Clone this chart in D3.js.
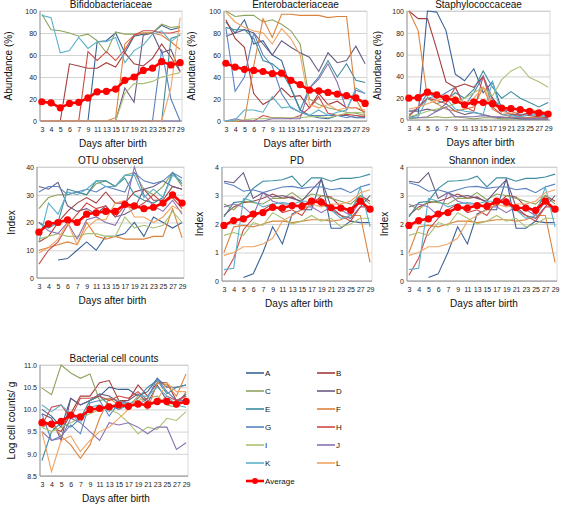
<!DOCTYPE html>
<html>
<head>
<meta charset="utf-8">
<script src="https://cdn.jsdelivr.net/npm/d3@7"></script>
<style>
  body { margin: 0; background: #fff; }
  svg { font-family: "Liberation Sans", Arial, sans-serif; }
</style>
</head>
<body>
<svg id="chart" width="563" height="505"></svg>
<script>
// x categories (days after birth)
const days = ["3", "4", "5", "6", "7", "9", "11", "13", "15", "17", "19", "21", "23", "25", "27", "29"];
const subjects = ["A", "B", "C", "D", "E", "F", "G", "H", "I", "J", "K", "L"];
const subjectColors = ["#3b6296", "#a43e3c", "#8ea35e", "#6b5b82", "#3e8da0", "#dc823c",
                       "#5b82c2", "#cc4b48", "#a9c274", "#8a72b2", "#5bb1c9", "#f2a462"];

// Bifidobacteriaceae (%), one row per subject A..L
const bifidoSeries = [
  [0, 0, 0, 0, 0, 0, 72, 73, 80, 62, 77, 79, 80, 87, 83, 85],
  [0, 0, 0, 52, 50, 48, 48, 53, 49, 62, 52, 50, 57, 70, 58, 45],
  [97, 83, 82, 80, 77, 79, 73, 62, 81, 79, 79, 80, 80, 88, 85, 86],
  [0, 0, 0, 0, 0, 0, 0, 0, 0, 30, 17, 78, 80, 62, 65, 45],
  [0, 0, 0, 0, 0, 0, 0, 0, 0, 0, 0, 0, 0, 0, 75, 78],
  [0, 0, 0, 0, 0, 0, 0, 0, 3, 70, 78, 80, 80, 78, 72, 65],
  [0, 0, 0, 0, 0, 0, 0, 0, 0, 0, 0, 0, 0, 65, 20, 0],
  [0, 0, 0, 0, 0, 63, 55, 63, 55, 65, 78, 82, 82, 80, 80, 82],
  [0, 0, 0, 0, 0, 0, 0, 0, 0, 25, 34, 34, 36, 40, 42, 44],
  [0, 0, 0, 0, 0, 0, 0, 0, 0, 0, 0, 0, 0, 0, 0, 0],
  [96, 94, 62, 64, 76, 66, 72, 72, 76, 53, 64, 69, 79, 82, 72, 79],
  [0, 0, 0, 0, 0, 0, 0, 0, 0, 0, 0, 0, 0, 0, 30, 94]
];
const bifidoAverage = [17.5, 16.5, 12, 16, 17, 21, 26.5, 27, 29, 37, 40, 46, 48, 54, 51, 53];

// Enterobacteriaceae (%)
const enteroSeries = [
  [90, 80, 92, 70, 73, 60, 55, 30, 10, 5, 3, 2, 5, 5, 3, 3],
  [92, 75, 67, 25, 15, 20, 30, 22, 23, 12, 25, 15, 18, 12, 12, 8],
  [100, 95, 96, 96, 90, 92, 88, 82, 70, 20, 15, 12, 10, 8, 7, 5],
  [77, 80, 83, 80, 70, 60, 73, 67, 62, 58, 45, 62, 53, 55, 68, 52],
  [85, 83, 83, 75, 55, 52, 45, 30, 10, 30, 40, 55, 40, 52, 37, 35],
  [0, 0, 0, 50, 93, 76, 97, 97, 96, 96, 96, 94, 95, 95, 20, 5],
  [85, 27, 40, 80, 60, 50, 25, 12, 8, 5, 5, 5, 5, 3, 5, 3],
  [0, 0, 0, 0, 5, 3, 3, 2, 5, 12, 22, 7, 5, 6, 5, 4],
  [0, 0, 1, 2, 2, 3, 3, 3, 3, 4, 4, 3, 5, 7, 8, 7],
  [0, 2, 0, 0, 0, 2, 2, 2, 2, 30, 38, 52, 35, 10, 28, 25],
  [0, 1, 10, 10, 8, 22, 12, 13, 8, 5, 10, 5, 8, 10, 30, 25],
  [99, 90, 85, 82, 80, 70, 84, 75, 60, 15, 12, 15, 10, 12, 12, 10]
];
const enteroAverage = [52.5, 49, 47, 46, 45, 43, 43.5, 37, 33, 28, 27.5, 26, 24.5, 23, 21, 16];

// Staphylococcaceae (%)
const staphSeries = [
  [2, 5, 100, 99, 82, 42, 36, 47, 25, 35, 10, 5, 3, 2, 2, 1],
  [100, 93, 93, 65, 35, 30, 33, 30, 40, 20, 10, 8, 5, 4, 3, 2],
  [1, 2, 2, 3, 2, 3, 2, 1, 2, 2, 1, 1, 1, 1, 1, 1],
  [8, 8, 10, 8, 15, 8, 5, 7, 5, 3, 2, 2, 1, 1, 1, 1],
  [5, 10, 20, 15, 18, 25, 20, 28, 45, 30, 20, 26, 20, 16, 12, 16],
  [100, 82, 20, 15, 10, 8, 10, 12, 30, 10, 5, 3, 2, 2, 2, 1],
  [8, 10, 25, 20, 25, 30, 13, 25, 40, 18, 10, 5, 5, 6, 5, 4],
  [3, 12, 20, 18, 15, 30, 12, 8, 40, 12, 5, 6, 4, 7, 8, 6],
  [3, 5, 8, 10, 12, 15, 20, 25, 30, 22, 37, 45, 49, 39, 35, 30],
  [2, 2, 3, 8, 12, 3, 3, 3, 4, 3, 3, 2, 2, 1, 1, 1],
  [2, 3, 20, 22, 20, 10, 8, 7, 5, 35, 5, 4, 3, 5, 4, 3],
  [10, 12, 15, 18, 20, 22, 15, 20, 30, 15, 8, 6, 8, 10, 8, 7]
];
const staphAverage = [20, 20.5, 25.5, 23, 20, 18, 14, 16.5, 16, 15, 11, 10.5, 9.5, 8, 6.5, 5.5];

// OTU observed
const otuSeries = [
  [null, null, 6.5, 7, 10, 13, 10, 15, 15, 16, 20, 15, 22, 20, 18, 20],
  [13, 15, 20, 24, 27, 29, 27, 31, 27, 27, 31, 32, 28, 28, 33, 32],
  [25, 29, 30, 30, 31, 30, 34, 35, 33, 37, 38, 32, 30, 33, 38, 33],
  [33, 32, 34.5, 26, 24, 25, 23, 26, 22, 23, 25, 32, 33, 35, 33, 32],
  [20, 18, 20, 32, 31, 30, 35, 35, 33, 36, 30, 28, 27, 29, 38, 34],
  [10, 11, 12, 13, 12, 20, 15, 14, 15, 14, 14, 14, 15, 15, 25, 14.5],
  [31, 33, 33, 30, 31, 32, 31, 33, 32, 31, 38, 35, 34, 35, 38, 36],
  [5, 10, 13, 19, 23, 27, 25, 26, 22, 26, 25, 27, 30, 27, 29, 25],
  [14, 15, 16, 15, 15, 16, 16, 15, 15, 22, 18, 19, 18, 19, 24, 20],
  [20, 17, 16, 20, 14, 21, 22, 20, 19, 25, 40, 30, 26, 24, 28, 23],
  [13, 27, 23, 31, 30, 32, 35, 33, 33, 37, 37, 29, 32, 29, 37, 35],
  [9, 11, 14, 20, 12, 18, 21, 21, 27, 28, 22, 22, 20, 22, 26, 24]
];
const otuAverage = [16.5, 19.5, 20, 21, 20, 23, 23.5, 24, 24, 26.5, 26, 25, 25.5, 27, 30, 27];

// PD (the Shannon index panel shows the same curves)
const pdSeries = [
  [null, null, 0.12, 0.25, 1.0, 1.9, 1.3, 2.35, 2.5, 2.5, 3.6, 1.85, 1.85, 2.1, 2.05, 2.05],
  [2.3, 2.6, 2.75, 2.8, 2.9, 3.05, 2.9, 2.95, 2.75, 2.65, 3.0, 2.95, 2.6, 2.5, 3.0, 2.8],
  [2.7, 2.5, 2.8, 2.75, 2.7, 2.9, 2.9, 3.1, 2.85, 3.05, 3.0, 2.9, 2.8, 2.7, 3.0, 2.7],
  [3.5, 3.45, 3.8, 2.9, 3.1, 2.95, 3.0, 2.9, 2.8, 3.2, 3.55, 2.6, 2.3, 2.2, 2.6, 3.0],
  [2.25, 2.75, 2.8, 3.25, 3.5, 3.52, 3.55, 3.68, 3.3, 3.62, 3.62, 3.5, 3.6, 3.6, 3.65, 3.75],
  [1.0, 1.9, 1.95, 1.9, 2.0, 2.1, 2.1, 2.05, 2.1, 2.15, 2.15, 2.1, 2.15, 2.3, 2.3, 0.65],
  [3.45, 3.35, 3.15, 3.2, 3.1, 3.2, 3.3, 3.32, 3.25, 3.3, 3.3, 3.2, 3.25, 3.1, 3.3, 3.4],
  [0.2, 0.8, 1.8, 2.2, 2.5, 2.7, 2.4, 2.5, 2.3, 2.8, 2.9, 2.5, 2.3, 2.1, 2.6, 2.6],
  [1.6, 1.7, 1.6, 2.05, 1.95, 2.4, 2.2, 2.0, 2.1, 2.3, 2.1, 2.2, 1.9, 2.0, 2.2, 2.2],
  [2.6, 2.7, 2.6, 2.3, 3.1, 2.8, 2.7, 2.7, 2.6, 2.6, 2.4, 2.6, 2.5, 2.3, 2.8, 2.4],
  [0.4, 0.45, 2.9, 2.8, 2.6, 2.7, 2.75, 2.7, 2.8, 2.8, 2.7, 2.5, 2.2, 2.3, 3.3, 1.9],
  [0.9, 1.0, 1.2, 1.2, 1.3, 1.5, 2.1, 2.3, 2.5, 2.7, 2.6, 2.7, 2.7, 2.8, 3.1, 3.2]
];
const pdAverage = [1.95, 2.12, 2.18, 2.35, 2.4, 2.58, 2.56, 2.65, 2.62, 2.8, 2.76, 2.57, 2.56, 2.48, 2.8, 2.52];
const shannonSeries = pdSeries;
const shannonAverage = pdAverage;

// Bacterial cell counts (log cells / g)
const cellSeries = [
  [10.0, 9.85, 9.6, 10.25, 10.1, 10.2, 10.3, 10.5, 10.45, 10.45, 10.3, 10.4, 10.7, 10.5, 10.5, 10.55],
  [9.8, 9.6, 9.5, 9.9, 10.3, 10.3, 10.6, 10.65, 10.2, 10.2, 10.55, 10.3, 10.6, 10.6, 10.2, 10.3],
  [10.48, 10.33, 11.0, 10.82, 10.7, 10.8, 10.2, 10.25, 10.2, 10.1, 10.2, 10.25, 10.3, 10.1, 10.05, 10.4],
  [9.9, 9.8, 9.3, 10.25, 10.1, 10.2, 10.35, 10.3, 10.15, 10.2, 10.35, 10.15, 10.55, 10.2, 10.15, 10.35],
  [8.85, 9.5, 9.7, 9.6, 9.8, 10.2, 10.3, 10.1, 10.0, 10.1, 10.25, 10.5, 10.65, 10.35, 10.5, 10.55],
  [9.6, 9.7, 9.4, 9.2, 8.9, 9.2, 9.8, 10.25, 10.1, 10.1, 10.2, 10.0, 10.6, 10.55, 10.3, 10.8],
  [9.9, 9.3, 9.4, 9.65, 9.45, 10.15, 10.2, 9.85, 10.15, 10.15, 10.1, 10.25, 10.7, 10.4, 10.2, 10.2],
  [9.65, 10.05, 10.1, 9.8, 10.25, 10.25, 10.3, 10.2, 10.3, 10.25, 10.4, 10.2, 10.1, 10.3, 10.2, 10.3],
  [9.6, 9.5, 9.6, 9.7, 9.8, 9.9, 10.0, 10.0, 9.9, 9.7, 9.45, 9.6, 9.55, 9.8, 9.75, 9.95],
  [9.5, 9.3, 9.35, 9.8, 9.7, 9.5, 9.3, 9.7, 9.65, 9.7, 9.6, 9.45, 9.6, 9.6, 9.1, 9.25],
  [10.1, 9.95, 10.1, 9.9, 9.7, 10.05, 10.1, 9.95, 10.2, 10.05, 10.3, 10.3, 10.5, 10.3, 10.1, 10.05],
  [9.5, 8.6, 9.3, 9.4, 9.05, 9.3, 9.5, 9.6, 9.8, 10.0, 10.3, 10.1, 10.2, 10.6, 10.4, 10.4]
];
const cellAverage = [9.7, 9.67, 9.73, 9.87, 9.83, 10.0, 10.02, 10.06, 10.1, 10.07, 10.12, 10.1, 10.18, 10.18, 10.12, 10.18];

const svg = d3.select("#chart");

// panel layout: plot box in page pixels
const panels = [
  { title: "Bifidobacteriaceae", yLabel: "Abundance (%)", domain: [0, 100], ticks: [0, 20, 40, 60, 80, 100], fmt: "d",
    series: bifidoSeries, average: bifidoAverage, x0: 40, x1: 182, y0: 11, y1: 121, labelX: 12 },
  { title: "Enterobacteriaceae", yLabel: "Abundance (%)", domain: [0, 100], ticks: [0, 20, 40, 60, 80, 100], fmt: "d",
    series: enteroSeries, average: enteroAverage, x0: 224, x1: 367, y0: 11, y1: 121, labelX: 195 },
  { title: "Staphylococcaceae", yLabel: "Abundance (%)", domain: [0, 100], ticks: [0, 20, 40, 60, 80, 100], fmt: "d",
    series: staphSeries, average: staphAverage, x0: 407, x1: 550, y0: 11, y1: 120, labelX: 381 },
  { title: "OTU observed", yLabel: "Index", domain: [0, 40], ticks: [0, 10, 20, 30, 40], fmt: "d",
    series: otuSeries, average: otuAverage, x0: 37, x1: 184, y0: 167, y1: 278, labelX: 15 },
  { title: "PD", yLabel: "Index", domain: [0, 4], ticks: [0, 1, 2, 3, 4], fmt: "d",
    series: pdSeries, average: pdAverage, x0: 222, x1: 372, y0: 167, y1: 281, labelX: 203 },
  { title: "Shannon index", yLabel: "Index", domain: [0, 4], ticks: [0, 1, 2, 3, 4], fmt: "d",
    series: shannonSeries, average: shannonAverage, x0: 407, x1: 557, y0: 167, y1: 281, labelX: 388 },
  { title: "Bacterial cell counts", yLabel: "Log cell counts/ g", domain: [8.5, 11], ticks: [8.5, 9, 9.5, 10, 10.5, 11], fmt: ".1f",
    series: cellSeries, average: cellAverage, x0: 40, x1: 188, y0: 365, y1: 476, labelX: 15 }
];

panels.forEach(drawPanel);
drawLegend();

function drawPanel(p) {
  const g = svg.append("g");
  const x = d3.scalePoint().domain(days).range([p.x0, p.x1]).padding(0.2);
  const y = d3.scaleLinear().domain(p.domain).range([p.y1, p.y0]);

  // gridlines
  g.append("g")
    .attr("transform", `translate(${p.x0},0)`)
    .call(d3.axisLeft(y).tickValues(p.ticks).tickSize(-(p.x1 - p.x0)).tickFormat(d3.format(p.fmt)))
    .call(a => a.select(".domain").remove())
    .call(a => a.selectAll("line").attr("stroke", "#c8c8c8").attr("stroke-width", 0.8))
    .call(a => a.selectAll("text").attr("x", -3).style("font-size", "7px").attr("fill", "#222"));

  // plot frame
  g.append("rect")
    .attr("x", p.x0).attr("y", p.y0)
    .attr("width", p.x1 - p.x0).attr("height", p.y1 - p.y0)
    .attr("fill", "none").attr("stroke", "#d0d0d0").attr("stroke-width", 0.8);
  g.append("line").attr("x1", p.x0).attr("x2", p.x0).attr("y1", p.y0).attr("y2", p.y1)
    .attr("stroke", "#888").attr("stroke-width", 0.8);

  // x axis
  g.append("g")
    .attr("transform", `translate(0,${p.y1})`)
    .call(d3.axisBottom(x).tickSize(0).tickPadding(6))
    .call(a => a.select(".domain").attr("stroke", "#888").attr("stroke-width", 0.8)
      .attr("d", `M${p.x0},0H${p.x1}`))
    .call(a => a.selectAll("text").style("font-size", "7px").attr("fill", "#222"));

  // subject lines
  const line = d3.line()
    .defined(d => d.v !== null)
    .x(d => x(d.day))
    .y(d => y(d.v));

  p.series.forEach((vals, i) => {
    g.append("path")
      .datum(vals.map((v, j) => ({ day: days[j], v })))
      .attr("fill", "none")
      .attr("stroke", subjectColors[i])
      .attr("stroke-width", 1.1)
      .attr("d", line);
  });

  // average
  const avg = p.average.map((v, j) => ({ day: days[j], v }));
  g.append("path").datum(avg)
    .attr("fill", "none").attr("stroke", "#ff0000").attr("stroke-width", 2.6)
    .attr("d", line);
  g.selectAll(".avg-dot").data(avg).enter().append("circle")
    .attr("cx", d => x(d.day)).attr("cy", d => y(d.v))
    .attr("r", 3.6).attr("fill", "#ff0000");

  // titles
  g.append("text").attr("x", (p.x0 + p.x1) / 2).attr("y", p.y0 - 3)
    .attr("text-anchor", "middle").style("font-size", "10px").attr("fill", "#111").text(p.title);
  g.append("text").attr("x", (p.x0 + p.x1) / 2 + 2).attr("y", p.y1 + 26)
    .attr("text-anchor", "middle").style("font-size", "10px").attr("fill", "#111").text("Days after birth");
  g.append("text")
    .attr("transform", `translate(${p.labelX},${(p.y0 + p.y1) / 2}) rotate(-90)`)
    .attr("text-anchor", "middle").style("font-size", "10px").attr("fill", "#111").text(p.yLabel);
}

function drawLegend() {
  const g = svg.append("g");
  const items = subjects.map((s, i) => ({ name: s, color: subjectColors[i], col: i % 2, row: Math.floor(i / 2) }));
  const entry = g.selectAll(".legend").data(items).enter().append("g")
    .attr("transform", d => `translate(${246 + d.col * 71},${373 + d.row * 18})`);
  entry.append("line").attr("x1", 0).attr("x2", 18).attr("y1", 0).attr("y2", 0)
    .attr("stroke", d => d.color).attr("stroke-width", 1.6);
  entry.append("text").attr("x", 19).attr("y", 3).style("font-size", "8px").attr("fill", "#111").text(d => d.name);

  const avgEntry = g.append("g").attr("transform", `translate(246,${373 + 6 * 18})`);
  avgEntry.append("line").attr("x1", 0).attr("x2", 18).attr("y1", 0).attr("y2", 0)
    .attr("stroke", "#ff0000").attr("stroke-width", 2.6);
  avgEntry.append("circle").attr("cx", 9).attr("cy", 0).attr("r", 3).attr("fill", "#ff0000");
  avgEntry.append("text").attr("x", 19).attr("y", 3).style("font-size", "8px").attr("fill", "#111").text("Average");
}
</script>
</body>
</html>
